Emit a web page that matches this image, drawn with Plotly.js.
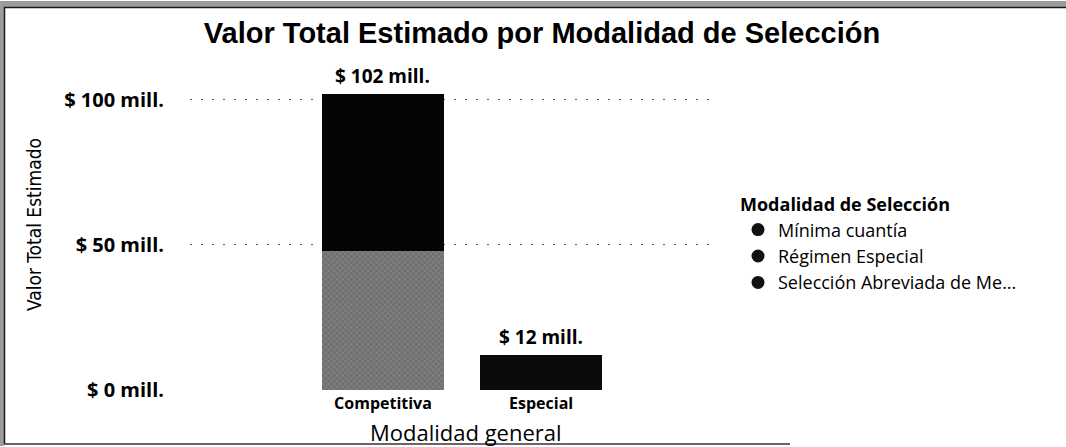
<!DOCTYPE html>
<html>
<head>
<meta charset="utf-8">
<script src="https://cdn.plot.ly/plotly-3.0.1.min.js"></script>
<style>
  html, body { margin: 0; padding: 0; background: #fff; }
  #chart { width: 1066px; height: 447px; }
</style>
</head>
<body>
<div id="chart"></div>
<script>
// ---- Data ----
const categories = ["Competitiva", "Especial"];
const seriesNames = ["Mínima cuantía", "Régimen Especial", "Selección Abreviada de Me..."];
const minimaCuantia = [48, 0];
const regimenEspecial = [0, 12];
const seleccionAbreviada = [54, 0];
const yTickVals = [0, 50, 100];
const yTickText = ["$ 0 mill.", "$ 50 mill.", "$ 100 mill."];

const seriesValues = [minimaCuantia, regimenEspecial, seleccionAbreviada];
const totals = categories.map((c, i) => seriesValues.reduce((s, arr) => s + arr[i], 0));

// ---- Layout geometry (pixels) ----
const W = 1066, H = 447;
const L = 190, R = 712, T = 70, B = 390;
const px2x = px => (px - L) / (R - L);
const py2y = py => (B - py) / (B - T);

const labelFont = "Open Sans, Noto Sans, sans-serif";
const seriesColors = ["#707070", "#0b0b0b", "#050505"];
const legendColors = ["#111111", "#111111", "#111111"];

const traces = [];
seriesValues.forEach((vals, k) => {
  const m = { color: seriesColors[k], line: { width: 0 } };
  if (k === 0) {
    m.pattern = { shape: "x", fgcolor: "#b8b8b8", size: 4, solidity: 0.25, fillmode: "overlay" };
  }
  traces.push({
    type: "bar", x: categories, y: vals, name: seriesNames[k],
    marker: m, width: 0.77, showlegend: false, legendgroup: "g" + k,
    hoverinfo: "x+y+name"
  });
});
// legend entries with circular markers (no data points)
seriesNames.forEach((n, k) => {
  traces.push({
    type: "scatter", mode: "markers", x: [null], y: [null], name: n,
    marker: { color: legendColors[k], size: 13, symbol: "circle" },
    legendgroup: "g" + k, showlegend: true, hoverinfo: "skip"
  });
});

const annotations = categories.map((c, i) => ({
  x: c, y: totals[i], xref: "x", yref: "y",
  text: "<b>$ " + totals[i] + " mill.</b>",
  showarrow: false, yanchor: "bottom", yshift: 3,
  font: { family: labelFont, size: 19, color: "#000" }
}));
annotations.push({
  xref: "paper", yref: "paper", x: px2x(34), y: py2y(225),
  text: "Valor Total Estimado", textangle: -90, showarrow: false,
  xanchor: "center", yanchor: "middle",
  font: { family: "Liberation Sans Narrow, DejaVu Sans Condensed, sans-serif", size: 19, color: "#000" }
});
annotations.push({
  xref: "paper", yref: "paper", x: px2x(466), y: py2y(432),
  text: "Modalidad general", showarrow: false,
  xanchor: "center", yanchor: "middle",
  font: { family: labelFont, size: 22, color: "#000" }
});

const shapes = [
  { type: "rect", xref: "paper", yref: "paper", x0: px2x(0), x1: px2x(W), y0: py2y(1), y1: py2y(7),
    fillcolor: "#9c9c9c", line: { width: 0 } },
  { type: "rect", xref: "paper", yref: "paper", x0: px2x(0), x1: px2x(4), y0: py2y(1), y1: py2y(446),
    fillcolor: "#9c9c9c", line: { width: 0 } },
  { type: "line", xref: "paper", yref: "paper", x0: px2x(4), x1: px2x(W), y0: py2y(7.5), y1: py2y(7.5),
    line: { color: "#1a1a1a", width: 1.5 } },
  { type: "line", xref: "paper", yref: "paper", x0: px2x(4.5), x1: px2x(4.5), y0: py2y(7), y1: py2y(444),
    line: { color: "#1a1a1a", width: 1.5 } },
  { type: "line", xref: "paper", yref: "paper", x0: px2x(4), x1: px2x(790), y0: py2y(444), y1: py2y(444),
    line: { color: "#333", width: 1.5 } }
];

const layout = {
  width: W, height: H,
  margin: { l: L, r: W - R, t: T, b: H - B, pad: 0 },
  paper_bgcolor: "#fff", plot_bgcolor: "#fff",
  barmode: "stack",
  title: {
    text: "<b>Valor Total Estimado por Modalidad de Selección</b>",
    xref: "container", yref: "container", x: 542 / W, y: 1 - 33 / H,
    xanchor: "center", yanchor: "middle",
    font: { family: "Liberation Sans, Arial, sans-serif", size: 29, color: "#000" }
  },
  xaxis: {
    type: "category", range: [-1.22, 2.08], showgrid: false, zeroline: false,
    showline: false, ticks: "", ticklabelstandoff: 2,
    tickfont: { family: labelFont, size: 16, color: "#000", weight: "bold" }
  },
  yaxis: {
    range: [0, 110.3], tickvals: yTickVals, ticktext: yTickText,
    showgrid: true, gridcolor: "#555", griddash: "2px,9px", gridwidth: 1,
    zeroline: false, showline: false, ticks: "", ticklabelstandoff: 25,
    tickfont: { family: labelFont, size: 20, color: "#000", weight: "bold" }
  },
  legend: {
    x: px2x(738), y: py2y(188), xanchor: "left", yanchor: "top",
    title: { text: "<b>Modalidad de Selección</b>", font: { family: labelFont, size: 18, color: "#000" } },
    font: { family: labelFont, size: 18, color: "#000" },
    itemwidth: 30, tracegroupgap: 0, bgcolor: "rgba(0,0,0,0)"
  },
  annotations: annotations,
  shapes: shapes,
  showlegend: true
};

Plotly.newPlot("chart", traces, layout, { displayModeBar: false, staticPlot: true });
</script>
</body>
</html>
